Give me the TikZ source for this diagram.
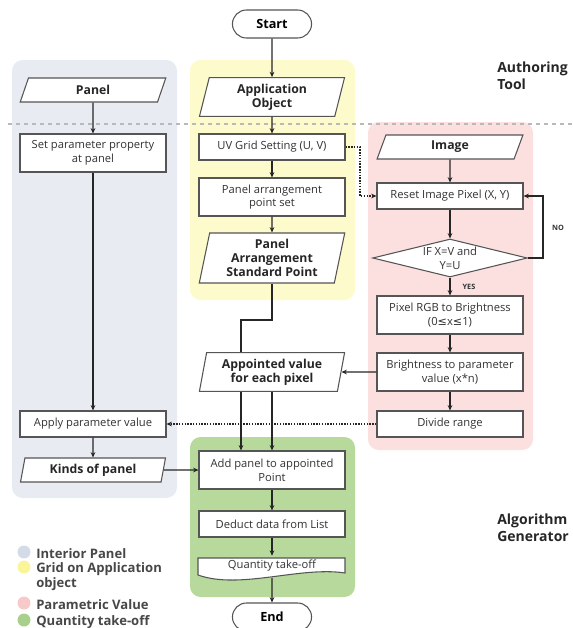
\documentclass[tikz,border=0pt]{standalone}
\usepackage{fontspec}
\setmainfont{Open Sans}
\newfontfamily\symfont{DejaVu Sans}
\usetikzlibrary{shapes.geometric,shapes.misc,arrows.meta,calc}
\definecolor{bluebg}{HTML}{E8ECF2}
\definecolor{yellowbg}{HTML}{FDFACB}
\definecolor{pinkbg}{HTML}{FCE0E0}
\definecolor{greenbg}{HTML}{B7DA9C}
\definecolor{bluelg}{HTML}{D3DBE7}
\definecolor{yellowlg}{HTML}{FBF59A}
\definecolor{pinklg}{HTML}{F7C9C9}
\definecolor{greenlg}{HTML}{A8D08C}
\definecolor{boxline}{HTML}{555555}
\definecolor{txt}{HTML}{333333}
\definecolor{lgtxt}{HTML}{474747}
\begin{document}
\begin{tikzpicture}[x=0.75pt,y=-0.75pt,
  font=\fontsize{8.4}{10.3}\selectfont,
  box/.style={draw=boxline, fill=white, line width=0.8pt, minimum width=109.5pt,
    minimum height=19.5pt, align=center, inner sep=1pt, text=txt},
  tall/.style={minimum height=28.5pt},
  io/.style={trapezium, trapezium left angle=79, trapezium right angle=101,
    trapezium stretches=true, draw=boxline, fill=white, line width=0.8pt,
    minimum width=109.5pt, minimum height=18pt, align=center, inner sep=1pt,
    font=\bfseries\fontsize{9.2}{10.6}\selectfont, text=black!85},
  term/.style={rounded rectangle, draw=boxline, fill=white, line width=0.8pt,
    minimum width=66pt, minimum height=21pt, font=\bfseries\fontsize{9.5}{11}\selectfont},
  arr/.style={-{Stealth[length=4pt,width=3.5pt]}, line width=1.1pt, draw=black!85},
  dotarr/.style={arr, densely dotted, line width=1.3pt},
  lg/.style={font=\bfseries\fontsize{9.8}{11.8}\selectfont, text=lgtxt, anchor=west, inner sep=0pt, align=left},
  big/.style={font=\bfseries\fontsize{10.5}{12.5}\selectfont, text=black!85, anchor=north west, inner sep=0pt, align=left}]
\useasboundingbox (0,0) rectangle (573,628);
% backgrounds
\fill[bluebg, rounded corners=8pt] (12,60) rectangle (177,498);
\fill[yellowbg, rounded corners=8pt] (190,60) rectangle (355,300);
\fill[pinkbg, rounded corners=8pt] (368,122) rectangle (533,450);
\fill[greenbg, rounded corners=8pt] (190,437) rectangle (355,597);
\draw[gray!55, dashed, line width=0.8pt] (8,124) -- (573,124);

% nodes
\node[term] (start) at (272,24) {Start};
\node[io] (panel) at (93,90) {Panel};
\node[io, minimum height=29pt] (app) at (272,97) {Application\\Object};
\node[box, tall] (setp) at (93,153) {Set parameter property\\at panel};
\node[box] (uv) at (272,147) {UV Grid Setting (U, V)};
\node[box, tall] (pas) at (272,197) {Panel arrangement\\point set};
\node[io, minimum height=37.5pt] (pasp) at (272,258) {Panel\\Arrangement\\Standard Point};
\node[box, tall] (add) at (272,470) {Add panel to appointed\\Point};
\coordinate (bend) at (241,320);
\draw[arr] (pasp.south) |- (bend) -- (bend |- add.north);
\node[io, minimum height=29pt] (apv) at (272,372) {Appointed value\\for each pixel};
\node[io] (img) at (450,147) {Image};
\node[box] (reset) at (450,196) {Reset Image Pixel (X, Y)};
\node[diamond, draw=boxline, fill=white, line width=0.8pt, minimum width=116pt, minimum height=28.5pt, inner sep=0pt] (dec) at (450,258) {};
\node[align=center, text=txt, inner sep=0pt] (dect) at (450,258) {IF X=V and\\Y=U};
\node[box, tall] (rgb) at (450,315) {Pixel RGB to Brightness\\(0{\symfont ≤}x{\symfont ≤}1)};
\node[box, tall] (bri) at (450,372) {Brightness to parameter\\value (x*n)};
\node[box] (div) at (450,424) {Divide range};
\node[box] (apply) at (93,424) {Apply parameter value};
\node[io] (kinds) at (93,470) {Kinds of panel};
\node[box] (ded) at (272,524) {Deduct data from List};
\draw[boxline, fill=white, line width=0.8pt] (198,558) -- (345,558) -- (345,573)
  .. controls (300,566) and (240,590) .. (198,575) -- cycle;
\node[inner sep=0pt, minimum width=109.5pt, minimum height=15pt, text=txt] (qto) at (272,566) {Quantity take-off};
\coordinate (qbot) at (272,578);
\node[term] (end) at (272,617) {End};

% labels
\node[font=\bfseries\fontsize{5.5}{6}\selectfont, text=txt] (yes) at (469,287) {YES};
\node[font=\bfseries\fontsize{5.5}{6}\selectfont, text=txt] (no) at (558,228) {NO};
\node[big] (auth) at (497,62) {Authoring\\Tool};
\node[big] (alg) at (497,514) {Algorithm\\Generator};

% connectors
\draw[arr] (start) -- (app);
\draw[arr] (app) -- (uv);
\draw[arr] (uv) -- (pas);
\draw[arr] (pas) -- (pasp);
\draw[arr] (panel) -- (setp);
\draw[arr] (setp) -- (apply);
\draw[arr] (apply) -- (kinds);
\draw[arr] (kinds.east) -- (add.west);
\draw[arr] (apv.south) -- (apv.south |- add.north);
\draw[arr] (add) -- (ded);
\draw[arr] (ded) -- (qto);
\draw[arr] (qbot) -- (end);
\draw[arr] (img) -- (reset);
\draw[arr] (reset) -- (dec);
\draw[arr] (dec) -- (rgb);
\draw[arr] (rgb) -- (bri);
\draw[arr] (bri) -- (div);
\coordinate (loop) at (543,258);
\draw[arr] (dec.east) -- (loop) |- (reset.east);
\draw[arr] (bri.west) -- (apv.east);
\draw[dotarr] (div.west) -- (apply.east);
\coordinate (dj) at (360,170);
\draw[dotarr] (uv.east) -| (dj) |- (reset.west);

% legend
\fill[bluelg] (24,552) circle (6.5);
\fill[yellowlg] (24,567) circle (6.5);
\fill[pinklg] (24,603) circle (6.5);
\fill[greenlg] (24,620) circle (6.5);
\node[lg] (l1) at (36,554) {Interior Panel};
\node[lg, anchor=north west] (l2) at (36,562) {Grid on Application\\object};
\node[lg] (l3) at (36,605) {Parametric Value};
\node[lg] (l4) at (36,622) {Quantity take-off};
\end{tikzpicture}
\end{document}
